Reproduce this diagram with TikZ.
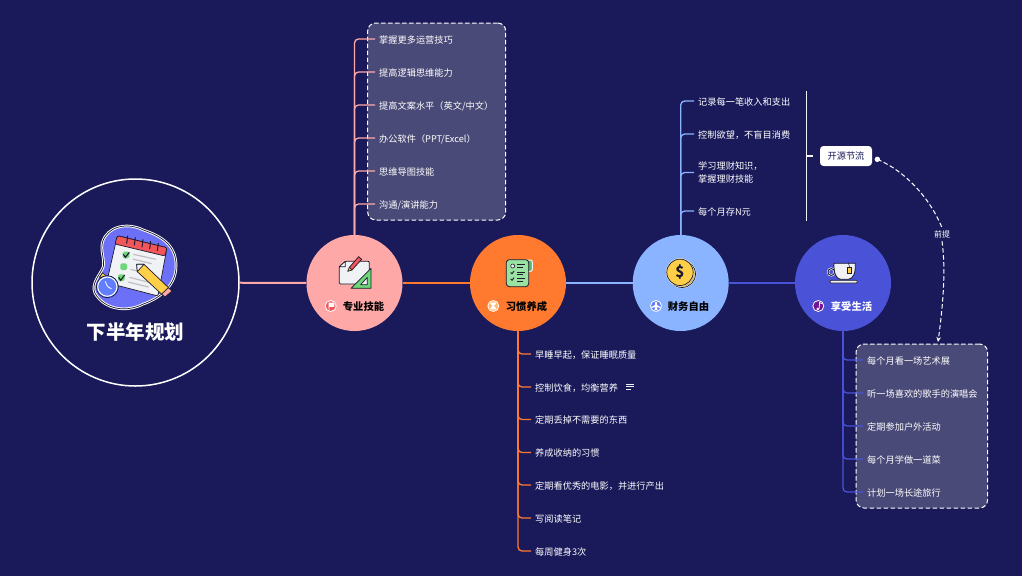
\documentclass[tikz,border=0pt]{standalone}
\usepackage{fontspec}
\setmainfont{Noto Sans CJK SC}
\usetikzlibrary{arrows.meta}
\definecolor{bg}{HTML}{1A1A5A}
\definecolor{cpink}{HTML}{FFA8A8}
\definecolor{corange}{HTML}{FF7A2E}
\definecolor{cblue}{HTML}{8AB4FF}
\definecolor{cindigo}{HTML}{4A52D8}
\definecolor{boxfill}{HTML}{4A4A78}
\definecolor{ink}{HTML}{1B1B2B}
\definecolor{lp}{HTML}{F0F2F6}
\definecolor{gn}{HTML}{6FD67A}
\definecolor{yl}{HTML}{FFCF48}
\definecolor{rd}{HTML}{F2555A}
\definecolor{blob}{HTML}{6C70F6}
\tikzset{
  hub/.style={circle,inner sep=0pt,minimum size=96pt},
  leaf/.style={anchor=west,inner sep=0pt,font=\fontsize{9.2}{11.5}\selectfont,text=white,align=left,text depth=1pt,text height=9pt},
  leaftwo/.style={anchor=west,inner sep=0pt,font=\fontsize{9.2}{12.3}\selectfont,text=white,align=left},
  hublabel/.style={inner sep=0pt,font=\fontsize{10.3}{12}\selectfont\bfseries},
  dashbox/.style={draw=white,fill=boxfill,line width=1pt,rounded corners=8pt,dash pattern=on 4.5pt off 2.5pt},
  trunk/.style={line width=1.3pt,rounded corners=4pt,shorten >=4pt},
  axis/.style={line width=2pt},
  linkdash/.style={white,line width=1pt,dash pattern=on 4.5pt off 2.5pt},
  zz/.style={x=0.33333pt,y=-0.33333pt},
  ol/.style={draw=ink,line width=0.7pt,line join=round},
}
\begin{document}
\begin{tikzpicture}[x=1pt,y=-1pt]
\useasboundingbox (0,0) rectangle (1022,576);
\fill[bg] (0,0) rectangle (1022,576);

% dashed panels
\node[dashbox,inner sep=0pt,minimum width=138pt,minimum height=197pt] (skillbox) at (436.7,121.5) {};
\node[dashbox,inner sep=0pt,minimum width=131.5pt,minimum height=164pt] (lifebox) at (921.8,426) {};

% hubs
\node[circle,draw=white,line width=1.5pt,inner sep=0pt,minimum size=207pt] (root) at (135.5,282.5) {};
\node[hub,fill=cpink] (skill) at (354.5,283) {};
\node[hub,fill=corange] (habit) at (518,283) {};
\node[hub,fill=cblue] (money) at (680.7,283) {};
\node[hub,fill=cindigo] (life) at (843,283) {};

% leaf texts
\node[leaf] (s1) at (379,39) {掌握更多运营技巧};
\node[leaf] (s2) at (379,72) {提高逻辑思维能力};
\node[leaf] (s3) at (379,105) {提高文案水平（英文/中文）};
\node[leaf] (s4) at (379,138) {办公软件（PPT/Excel）};
\node[leaf] (s5) at (379,171) {思维导图技能};
\node[leaf] (s6) at (379,204) {沟通/演讲能力};

\node[leaf] (h1) at (535,354) {早睡早起，保证睡眠质量};
\node[leaf] (h2) at (535,387) {控制饮食，均衡营养};
\node[leaf] (h3) at (535,419.5) {定期丢掉不需要的东西};
\node[leaf] (h4) at (535,452.5) {养成收纳的习惯};
\node[leaf] (h5) at (535,485) {定期看优秀的电影，并进行产出};
\node[leaf] (h6) at (535,518) {写阅读笔记};
\node[leaf] (h7) at (535,551) {每周健身3次};

\node[leaf] (m1) at (698,101) {记录每一笔收入和支出};
\node[leaf] (m2) at (698,134) {控制欲望，不盲目消费};
\node[leaftwo] (m3) at (698,172.5) {学习理财知识，\\掌握理财技能};
\node[leaf] (m4) at (698,211) {每个月存N元};

\node[leaf] (l1) at (867,360) {每个月看一场艺术展};
\node[leaf] (l2) at (867,393) {听一场喜欢的歌手的演唱会};
\node[leaf] (l3) at (867,426) {定期参加户外活动};
\node[leaf] (l4) at (867,459) {每个月学做一道菜};
\node[leaf] (l5) at (867,492) {计划一场长途旅行};

% axis
\draw[axis,cpink] (root) -- (skill);
\draw[axis,corange] (skill) -- (habit);
\draw[axis,cblue] (habit) -- (money);
\draw[axis,cindigo] (money) -- (life);

% branches
\foreach \n in {s1,s2,s3,s4,s5,s6} \draw[trunk,cpink] (skill.north) |- (\n.west);
\foreach \n in {h1,h2,h3,h4,h5,h6,h7} \draw[trunk,corange] (habit.south) |- (\n.west);
\foreach \n in {m1,m2,m3,m4} \draw[trunk,cblue] (money.north) |- (\n.west);
\foreach \n in {l1,l2,l3,l4,l5} \draw[trunk,cindigo] (life.south) |- (\n.west);

% bracket and summary
\coordinate (bt) at (806.7,91);
\coordinate (bb) at (806.7,220.7);
\coordinate (bm) at (806.7,156);
\node[fill=white,rounded corners=3.5pt,inner sep=0pt,minimum width=52pt,minimum height=20pt,text=bg,font=\fontsize{9.2}{11}\selectfont] (sum) at (846,156) {开源节流};
\draw[line width=1.1pt,lp] (bt) -- (bb);
\draw[line width=1.1pt,lp,shorten >=7pt] (bm) -- (sum.west);

% dashed link
\coordinate (ds) at (877.3,159.3);
\coordinate (de) at (938,342);
\node[inner sep=0pt,text=white,font=\fontsize{8}{9}\selectfont,minimum height=13pt] (prem) at (942,234.5) {前提};
\fill[white] (ds) circle (2.7pt);
\draw[linkdash] (ds) .. controls (905,171) and (930,198) .. (prem.north);
\draw[linkdash,-{Stealth[length=5pt,width=4.5pt]}] (prem.south) .. controls (946,270) and (943,305) .. (de);

% labels on hubs
\node[inner sep=0pt,text=white,font=\fontsize{19.5}{22}\selectfont\bfseries] (title) at (135.5,332.5) {下半年规划};
\node[hublabel,text=black] (sl) at (363.5,306.8) {专业技能};
\node[hublabel,text=black] (hl) at (526.5,306.8) {习惯养成};
\node[hublabel,text=black] (ml) at (688.5,306.8) {财务自由};
\node[hublabel,text=white] (ll) at (851.5,306.8) {享受生活};

% small round icons
\fill[rd] (330.7,306) circle (5.5pt); \draw[white,line width=.8pt] (330.7,306) circle (5.5pt);
\fill[white] (328.6,302.6) -- (334.4,302.6) -- (334.4,306.8) -- (329.4,306.8) -- (329.4,309.6) -- (328.6,309.6) -- cycle;
\fill[orange!55!white] (493.3,306) circle (5.5pt); \draw[white,line width=.8pt] (493.3,306) circle (5.5pt);
\fill[white] (490.4,302.6) -- (496.2,302.6) -- (496.2,303.6) -- (494,306) -- (496.2,308.4) -- (496.2,309.4) -- (490.4,309.4) -- (490.4,308.4) -- (492.6,306) -- (490.4,303.6) -- cycle;
\fill[cblue!70!blue] (656,306) circle (5.5pt); \draw[white,line width=.8pt] (656,306) circle (5.5pt);
\fill[white] (655.3,301.8) -- (656.7,301.8) -- (657,305) -- (660.6,307) -- (660.6,308) -- (657,307.2) -- (656.8,309) -- (658,310) -- (654,310) -- (655.2,309) -- (655,307.2) -- (651.4,308) -- (651.4,307) -- (655,305) -- cycle;
\fill[violet!75!cindigo] (818.3,306) circle (5.5pt); \draw[white,line width=.8pt] (818.3,306) circle (5.5pt);
\draw[white,line width=.8pt] (819,309) -- (819.6,302.6) -- (822,303.6);
\fill[white] (817.8,309) circle (1.4pt);

% note marker
\draw[lp,line width=.7pt] (626,384) -- (634,384) (626,386.5) -- (633.5,386.5) (626,389) -- (630.7,389);

% calendar illustration
\begin{scope}[shift={(20,170)},zz]
\path[fill=blob,draw=white,line width=2.6pt,line join=round] (248,215) .. controls (262,170) and (320,155) .. (370,180) .. controls (430,200) and (470,230) .. (468,290) .. controls (468,345) and (420,385) .. (370,402) .. controls (320,428) and (255,420) .. (225,370) .. controls (212,340) and (240,315) .. (250,290) .. controls (254,265) and (240,240) .. (248,215) -- cycle;
\path[draw=ink,line width=.7pt] (248,215) .. controls (262,170) and (320,155) .. (370,180) .. controls (430,200) and (470,230) .. (468,290) .. controls (468,345) and (420,385) .. (370,402) .. controls (320,428) and (255,420) .. (225,370) .. controls (212,340) and (240,315) .. (250,290) .. controls (254,265) and (240,240) .. (248,215) -- cycle;
\path[fill=lp,ol,rounded corners=2pt] (292,197) -- (441,233) -- (414,378) -- (260,338) -- cycle;
\path[fill=rd,ol,rounded corners=2pt] (292,197) -- (441,233) -- (435,258) -- (285,222) -- cycle;
\foreach \a/\b in {322/208,345/213,368/219,391/224,414/230}{
  \draw[ink,line width=1pt,line cap=round] (\a+1,\b-10) -- (\a-2,\b+12);
}
\path[fill=gn,draw=none,rounded corners=1.5pt] (308,245) rectangle (328,265);
\path[fill=gn,draw=none,rounded corners=1.5pt] (301,280) rectangle (321,300);
\path[fill=gn,draw=none,rounded corners=1.5pt] (294,313) rectangle (314,333);
\draw[ink,line width=1.1pt] (310,253) -- (316,262) -- (328,247);
\draw[ink,line width=1.1pt] (296,322) -- (302,331) -- (314,315);
\draw[black!25,line width=1.2pt] (340,253) -- (408,268) (338,267) -- (395,281) (332,298) -- (352,303) (328,322) -- (392,338) (324,336) -- (386,351);
\path[fill=yl,ol] (350,283) -- (372,283) -- (455,362) -- (434,381) -- (352,305) -- cycle;
\path[fill=lp,ol] (350,283) -- (372,283) -- (352,305) -- cycle;
\path[fill=cpink,ol] (445,353) -- (456,363) -- (435,381) -- (425,372) -- cycle;
\path[fill=yl,ol] (238,322) -- (248,308) -- (262,322) -- cycle;
\path[fill=cblue!70!blue,draw=ink,line width=.7pt] (262,350) circle (11pt);
\draw[white,line width=1pt] (262,350) circle (9.6pt);
\draw[white,line width=.8pt,line cap=round] (256,335) .. controls (258,345) and (263,352) .. (274,356);
\end{scope}

% skill icon
\begin{scope}[shift={(290,220)},zz]
\path[fill=lp,ol,line width=.8pt,rounded corners=1pt] (148,140) -- (166,124) -- (238,124) -- (238,192) -- (148,192) -- cycle;
\path[fill=white,ol] (148,140) -- (166,140) -- (166,124) -- cycle;
\path[fill=rd,ol] (178,142) -- (206,110) -- (215,118) -- (186,150) -- cycle;
\path[fill=yl,ol] (178,142) -- (186,150) -- (173,154) -- cycle;
\path[fill=gn,ol,line width=.8pt] (243,145) -- (243,205) -- (183,205) -- cycle;
\path[fill=lp,ol] (232,172) -- (232,194) -- (212,194) -- cycle;
\end{scope}

% habit icon
\begin{scope}[shift={(290,220)},zz]
\path[fill=gn!85!black,draw=lp,line width=1pt,rounded corners=2pt] (700,120) rectangle (727,154);
\path[fill=gn!70!white,ol,line width=.8pt,rounded corners=3pt] (649,119) rectangle (716,200);
\draw[ink,fill=lp,line width=.6pt] (668,138) circle (2pt);
\draw[ink,line width=.9pt] (682,134) -- (704,134) (682,142) -- (698,142);
\draw[ink,line width=.9pt] (662,157) -- (666,161) -- (672,153) (662,177) -- (666,181) -- (672,173);
\draw[ink,line width=.9pt] (682,156) -- (704,156) (682,164) -- (698,164) (682,176) -- (704,176) (682,184) -- (698,184);
\end{scope}

% coin icon
\begin{scope}[shift={(620,220)},zz]
\path[fill=yl!85!black,draw=lp,line width=1.6pt] (186,162) circle (13.5pt);
\path[draw=ink,line width=.7pt] (186,162) circle (13.5pt);
\path[fill=yl,draw=lp,line width=.5pt] (180,157) circle (13.7pt);
\path[draw=ink,line width=.7pt] (180,157) circle (13.2pt);
\node[inner sep=0pt,text=ink,font=\fontsize{15}{16}\selectfont\bfseries] (dollar) at (180,155) {\$};
\end{scope}

% cup icon
\begin{scope}[shift={(620,220)},zz]
\path[draw=lp,line width=2.2pt] (634,156) circle (3.4pt);
\path[draw=ink,line width=.9pt] (634,156) circle (3.4pt);
\path[fill=lp,draw=ink,line width=.8pt] (642,130) -- (706,130) .. controls (707,160) and (700,176) .. (685,178) -- (662,178) .. controls (648,176) and (641,160) .. (642,130) -- cycle;
\path[fill=lp,draw=ink,line width=.7pt,rounded corners=1pt] (630,181) rectangle (712,189);
\draw[ink,line width=.5pt] (684,127) -- (690,143);
\path[fill=yl,draw=ink,line width=.5pt] (683,143) rectangle (695,159);
\end{scope}
\end{tikzpicture}
\end{document}
